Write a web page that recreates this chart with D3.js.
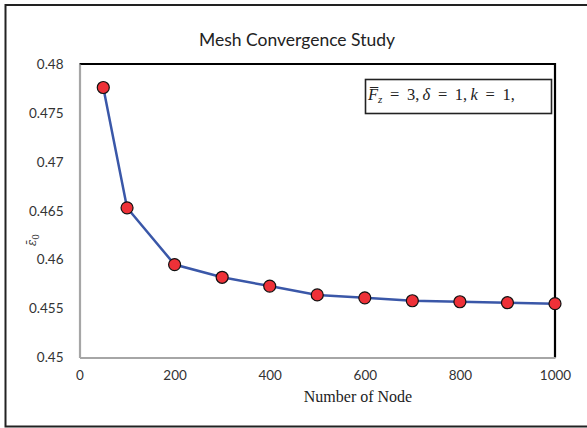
<!DOCTYPE html>
<html>
<head>
<meta charset="utf-8">
<script src="https://cdn.jsdelivr.net/npm/d3@7"></script>
<style>
  html, body { margin: 0; padding: 0; background: #fff; }
  svg { display: block; }
</style>
</head>
<body>
<svg id="chart" width="587" height="428"></svg>
<script>
// Mesh convergence: strain value against number of nodes
const nodes = [50, 100, 200, 300, 400, 500, 600, 700, 800, 900, 1000];
const strain = [0.4776, 0.4653, 0.4595, 0.4582, 0.4573, 0.4564, 0.4561, 0.4558, 0.4557, 0.4556, 0.4555];
const xTicks = [0, 200, 400, 600, 800, 1000];
const yTicks = [0.45, 0.455, 0.46, 0.465, 0.47, 0.475, 0.48];

const svg = d3.select("#chart");
const plot = { left: 79.5, right: 555, top: 64, bottom: 357.5 };

const x = d3.scaleLinear().domain([0, 1000]).range([plot.left, plot.right]);
const y = d3.scaleLinear().domain([0.45, 0.48]).range([plot.bottom, plot.top]);

const sans = "Lato, 'Open Sans', sans-serif";

// outer frame (open on the right)
svg.append("path")
  .attr("d", "M587,5 H5.5 V426.5 H587")
  .attr("fill", "none").attr("stroke", "#222").attr("stroke-width", 2);

// title
svg.append("text")
  .attr("x", 297).attr("y", 46)
  .attr("text-anchor", "middle")
  .attr("font-family", sans).attr("font-size", 17.5).attr("fill", "#222")
  .text("Mesh Convergence Study");

// plot frame: black top/right, grey axes left/bottom
svg.append("path")
  .attr("d", `M${plot.left},${plot.top} H${plot.right} V${plot.bottom}`)
  .attr("fill", "none").attr("stroke", "#000").attr("stroke-width", 2.2);

// axes
const yAxis = d3.axisLeft(y).tickValues(yTicks).tickSize(0).tickPadding(16)
  .tickFormat(d => String(+d.toFixed(3)));
const gy = svg.append("g").attr("transform", `translate(${plot.left},0)`).call(yAxis);
gy.select(".domain").attr("stroke", "#a6a6a6").attr("stroke-width", 2.2);
gy.selectAll("text").attr("font-family", sans).attr("font-size", 13.5).attr("fill", "#333");

const xAxis = d3.axisBottom(x).tickValues(xTicks).tickSize(0).tickPadding(13)
  .tickFormat(d => String(d));
const gx = svg.append("g").attr("transform", `translate(0,${plot.bottom})`).call(xAxis);
gx.select(".domain").attr("stroke", "#a6a6a6").attr("stroke-width", 2.2);
gx.selectAll("text").attr("font-family", sans).attr("font-size", 13.5).attr("fill", "#333");

// x axis title
svg.append("text")
  .attr("x", 358).attr("y", 402)
  .attr("text-anchor", "middle")
  .attr("font-family", "'Liberation Serif', 'Times New Roman', serif")
  .attr("font-size", 16).attr("fill", "#222")
  .text("Number of Node");

// y axis title (rotated epsilon-bar with subscript 0)
const yl = svg.append("text")
  .attr("transform", "translate(36,240) rotate(-90)")
  .attr("text-anchor", "middle")
  .attr("font-family", "'DejaVu Serif', serif")
  .attr("font-size", 12).attr("fill", "#333");
yl.append("tspan").attr("font-style", "italic").text("\u03B5\u0304");
yl.append("tspan").attr("font-size", 9).attr("dy", 3).text("0");

// parameter box
const box = svg.append("g");
box.append("rect")
  .attr("x", 365.5).attr("y", 79.5).attr("width", 186).attr("height", 34)
  .attr("fill", "#fff").attr("stroke", "#222").attr("stroke-width", 1.6);
const bt = box.append("text")
  .attr("x", 368).attr("y", 100)
  .attr("font-family", "'Liberation Serif', 'DejaVu Serif', serif")
  .attr("font-size", 16.5).attr("fill", "#222")
  .attr("word-spacing", 3.5);
bt.append("tspan").attr("font-style", "italic").text("F\u0305");
bt.append("tspan").attr("font-style", "italic").attr("font-size", 11).attr("dy", 3).text("z");
bt.append("tspan").attr("dy", -3).text(" = 3,\u2009");
bt.append("tspan").attr("font-style", "italic").text("\u03B4");
bt.append("tspan").text(" = 1,\u2009");
bt.append("tspan").attr("font-style", "italic").text("k");
bt.append("tspan").text(" = 1,");

// data line and markers
const pts = nodes.map((n, i) => [n, strain[i]]);
svg.append("path")
  .datum(pts)
  .attr("d", d3.line().x(d => x(d[0])).y(d => y(d[1])))
  .attr("fill", "none").attr("stroke", "#3a57a8").attr("stroke-width", 2.5);

svg.selectAll("circle.pt").data(pts).join("circle")
  .attr("class", "pt")
  .attr("cx", d => x(d[0])).attr("cy", d => y(d[1]))
  .attr("r", 6)
  .attr("fill", "#ee3138").attr("stroke", "#111").attr("stroke-width", 1.2);
</script>
</body>
</html>
